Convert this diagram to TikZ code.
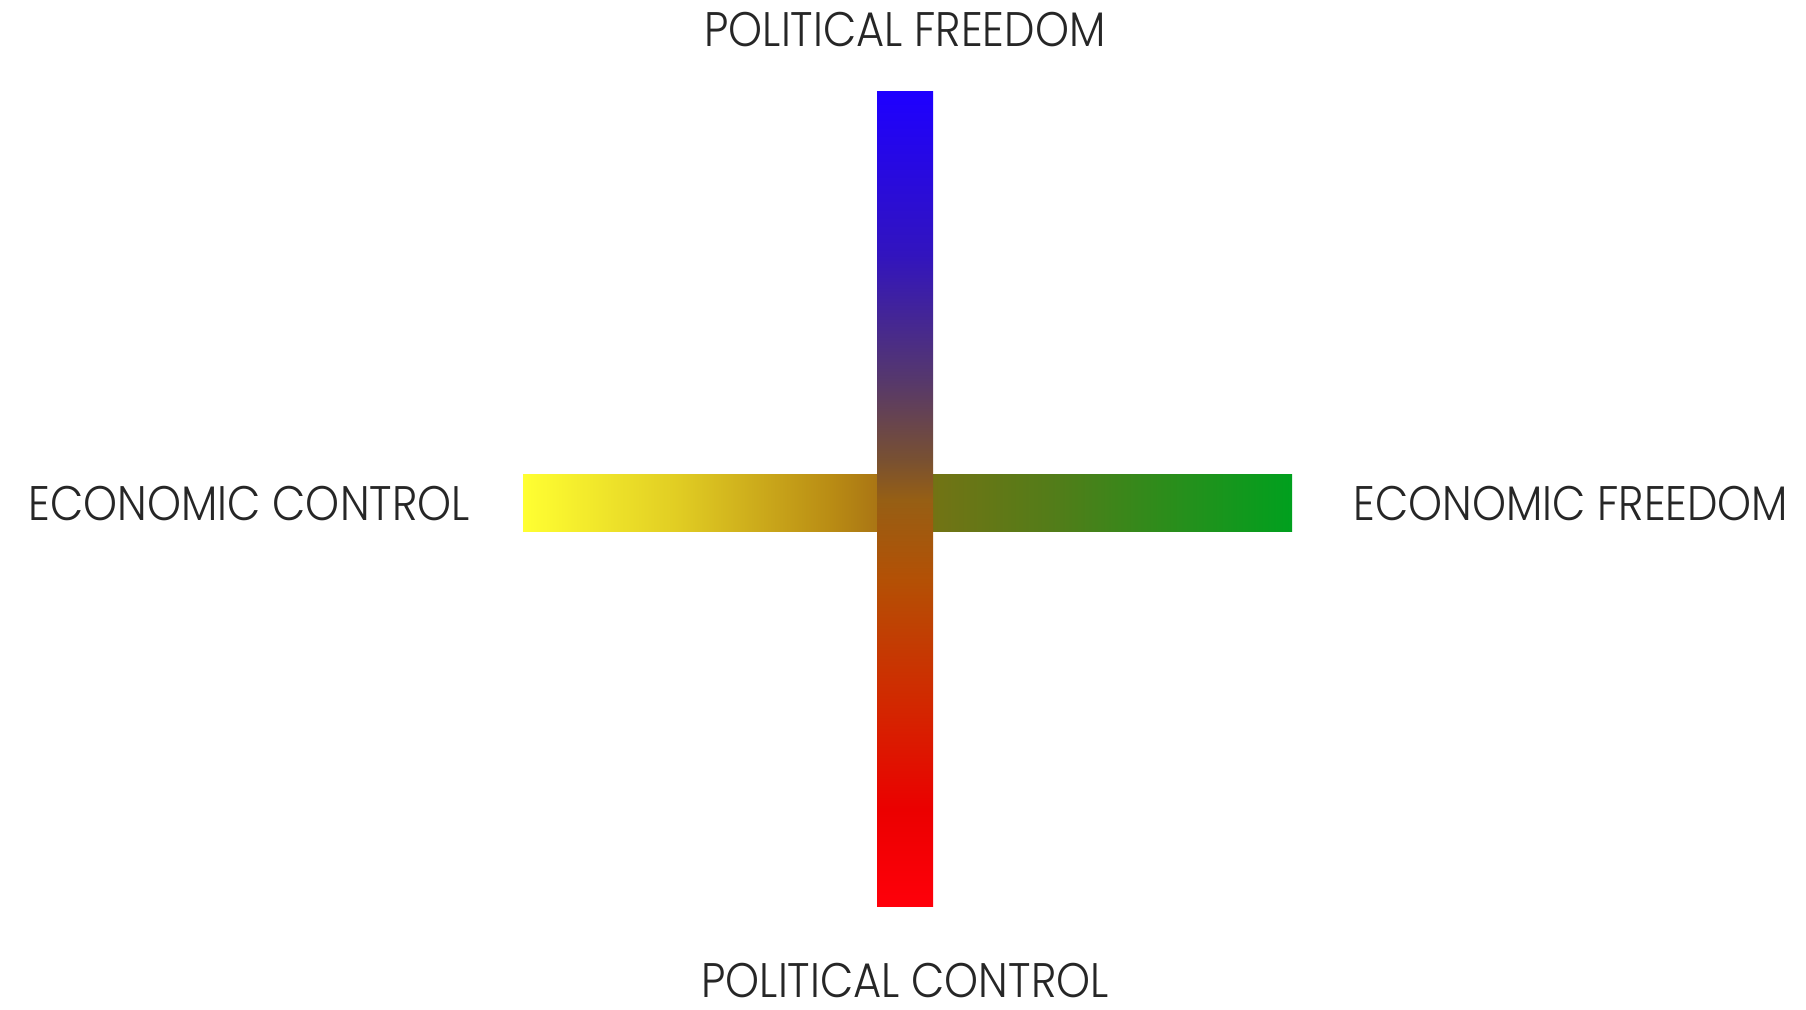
\documentclass[tikz,border=0pt]{standalone}
\usepackage{fontspec}
\IfFontExistsTF{Poppins Light}{\setmainfont{Poppins Light}[FakeStretch=0.89]}{\setmainfont{Poppins}[FakeStretch=0.89]}
\usepackage{tikz}
\usetikzlibrary{positioning}

% colour runs of the two axes
\pgfdeclareverticalshading{polshade}{100bp}{
  color(0bp)=(rgb,255:red,255;green,0;blue,10);
  color(25bp)=(rgb,255:red,255;green,0;blue,10);
  color(31bp)=(rgb,255:red,235;green,0;blue,0);
  color(37.5bp)=(rgb,255:red,210;green,40;blue,0);
  color(45bp)=(rgb,255:red,180;green,80;blue,5);
  color(50bp)=(rgb,255:red,150;green,95;blue,20);
  color(52.5bp)=(rgb,255:red,120;green,80;blue,50);
  color(57.5bp)=(rgb,255:red,85;green,55;blue,110);
  color(65bp)=(rgb,255:red,50;green,20;blue,190);
  color(75bp)=(rgb,255:red,30;green,0;blue,255);
  color(100bp)=(rgb,255:red,30;green,0;blue,255)}
\pgfdeclarehorizontalshading{ecoshade}{100bp}{
  color(0bp)=(rgb,255:red,255;green,255;blue,50);
  color(25bp)=(rgb,255:red,255;green,255;blue,50);
  color(35bp)=(rgb,255:red,225;green,205;blue,35);
  color(45bp)=(rgb,255:red,185;green,140;blue,20);
  color(49bp)=(rgb,255:red,165;green,110;blue,20);
  color(50bp)=(rgb,255:red,140;green,100;blue,20);
  color(51.5bp)=(rgb,255:red,115;green,115;blue,20);
  color(60bp)=(rgb,255:red,80;green,125;blue,25);
  color(75bp)=(rgb,255:red,0;green,160;blue,30);
  color(100bp)=(rgb,255:red,0;green,160;blue,30)}

\begin{document}
\begin{tikzpicture}[
    lbl/.style={
        inner sep=0pt,
        text depth=0pt,
        text=black!85,
        font=\fontsize{13.8}{16}\selectfont
    },
    vbar/.style={
        rectangle, inner sep=0pt, shade, shading=polshade,
        minimum width=0.56cm, minimum height=8.15cm
    },
    hbar/.style={
        rectangle, inner sep=0pt, shade, shading=ecoshade,
        minimum width=7.69cm, minimum height=0.57cm
    }
]
\fill[white] (0,0) rectangle (18.06,10.10);
\useasboundingbox (0,0) rectangle (18.06,10.10);

\node[hbar] (eco) at (9.075,5.065) {};
\node[vbar] (pol) at (9.05,5.105) {};

\node[lbl] (pf) [above=0.44cm of pol] {POLITICAL FREEDOM};
\node[lbl] (pc) [below=0.55cm of pol] {POLITICAL CONTROL};
\node[lbl] (ec) [left=0.52cm of eco] {ECONOMIC CONTROL};
\node[lbl] (ef) [right=0.6cm of eco] {ECONOMIC FREEDOM};

\end{tikzpicture}
\end{document}
